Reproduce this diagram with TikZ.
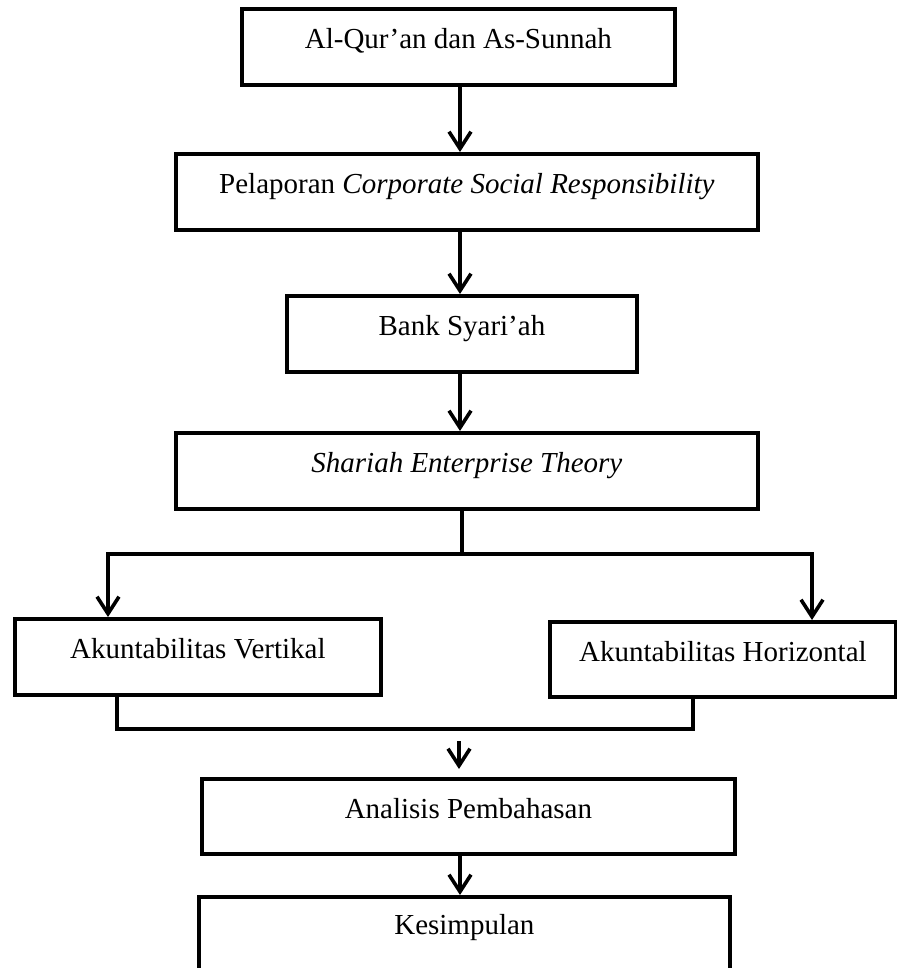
\documentclass[tikz,border=0pt]{standalone}
\usepackage{fontspec}
\setmainfont{Liberation Serif}
\usetikzlibrary{arrows.meta}
\begin{document}
\begin{tikzpicture}[x=1pt,y=-1pt,
  box/.style={draw, line width=3.8pt, inner sep=0pt, anchor=north west,
    text height=40pt, text depth=36pt, font=\fontsize{29}{34}\selectfont},
  conn/.style={line width=3.6pt},
  arr/.style={line width=3.6pt, -{Straight Barb[length=17pt,width=22pt,line width=3.6pt]}}]
\useasboundingbox (0,0) rectangle (896,968);
\node[box, minimum width=433pt] (b1) at (240,7) {Al-Qur’an dan As-Sunnah};
\node[box, minimum width=582pt] (b2) at (174,152) {Pelaporan \textit{Corporate Social Responsibility}};
\node[box, minimum width=350pt] (b3) at (285,294) {Bank Syari’ah};
\node[box, minimum width=582pt] (b4) at (174,431) {\textit{Shariah Enterprise Theory}};
\node[box, minimum width=366pt] (b5) at (13,617) {Akuntabilitas Vertikal};
\node[box, minimum width=346pt, text depth=35pt] (b6) at (548,620) {Akuntabilitas Horizontal};
\node[box, minimum width=533pt, text depth=35pt] (b7) at (200,777) {Analisis Pembahasan};
\node[box, minimum width=531pt, text height=38pt, text depth=42pt] (b8) at (197,895) {Kesimpulan};
\coordinate (ax) at (460,0);
\coordinate (sp) at (462,554);
\coordinate (spl) at (108,554);
\coordinate (spr) at (812,554);
\coordinate (jl) at (117,729);
\coordinate (jr) at (693,729);
\coordinate (ja) at (459,741);
\draw[arr] (b1.south -| ax) -- (b2.north -| ax);
\draw[arr] (b2.south -| ax) -- (b3.north -| ax);
\draw[arr] (b3.south -| ax) -- (b4.north -| ax);
\draw[conn] (b4.south -| sp) -- (sp);
\draw[conn] ([xshift=-1.8pt]spl) -- ([xshift=1.8pt]spr);
\draw[arr] (spl) -- (b5.north -| spl);
\draw[arr] (spr) -- (b6.north -| spr);
\draw[conn] (b5.south -| jl) -- (jl) -- (jr) -- (b6.south -| jr);
\draw[arr, shorten >=8pt] (ja) -- (b7.north -| ja);
\draw[arr] (b7.south -| ax) -- (b8.north -| ax);
\end{tikzpicture}
\end{document}
